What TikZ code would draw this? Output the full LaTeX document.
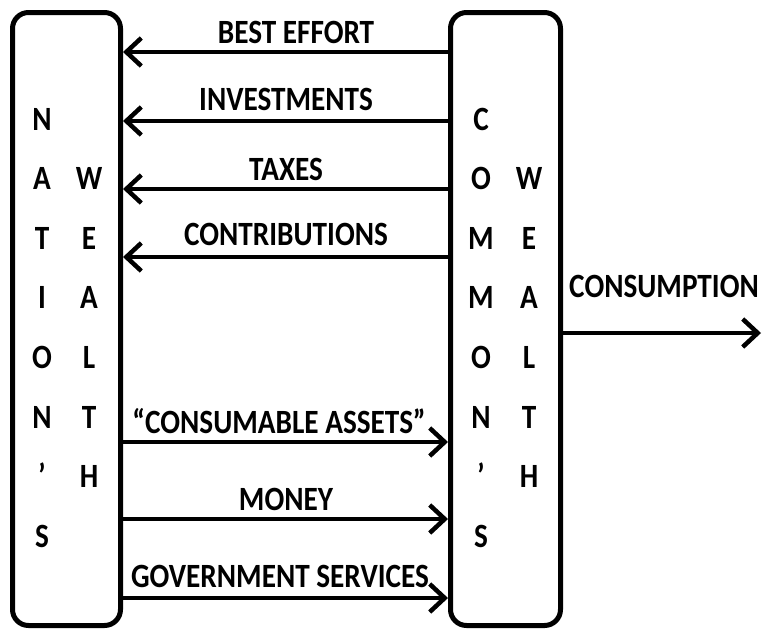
\documentclass[tikz,border=0pt]{standalone}
\usepackage{fontspec}
\setmainfont{Carlito}[FakeStretch=0.86]
\usetikzlibrary{arrows.meta}
\begin{document}
\begin{tikzpicture}[x=1pt,y=-1pt,
  box/.style={draw,line width=5pt,rounded corners=16pt,inner sep=0pt,minimum height=613pt},
  letter/.style={anchor=base,inner sep=0pt,font=\fontsize{34}{34}\selectfont\bfseries},
  lbl/.style={anchor=base,inner sep=0pt,font=\fontsize{34}{34}\selectfont\bfseries},
  arr/.style={line width=4.5pt,-{Straight Barb[length=15pt,width=28pt,line width=4.5pt]}}]
\useasboundingbox (0,0) rectangle (762,632);
\node[box,minimum width=108pt] (L) at (66.5,319) {};
\node[box,minimum width=110pt] (R) at (505.5,319) {};
% left column letters
\foreach \t [count=\i from 0] in {N,A,T,I,O,N,’,S}
  \node[letter] (ln\i) at (42,130+59.6*\i) {\t};
\foreach \t [count=\i from 1] in {W,E,A,L,T,H}
  \node[letter] (lw\i) at (89,130+59.6*\i) {\t};
\foreach \t [count=\i from 0] in {C,O,M,M,O,N,’,S}
  \node[letter] (rc\i) at (481,130+59.6*\i) {\t};
\foreach \t [count=\i from 1] in {W,E,A,L,T,H}
  \node[letter] (rw\i) at (529,130+59.6*\i) {\t};
% arrows to the left
\draw[arr] (R.west |- 0,52) -- (L.east |- 0,52);
\draw[arr] (R.west |- 0,121) -- (L.east |- 0,121);
\draw[arr] (R.west |- 0,189) -- (L.east |- 0,189);
\draw[arr] (R.west |- 0,257) -- (L.east |- 0,257);
% arrows to the right
\draw[arr] (L.east |- 0,442) -- (R.west |- 0,442);
\draw[arr] (L.east |- 0,519) -- (R.west |- 0,519);
\draw[arr] (L.east |- 0,598) -- (R.west |- 0,598);
\coordinate (end) at (761,333);
\draw[arr] (R.east |- end) -- (end);
% labels
\node[lbl] (t1) at (296,43) {BEST EFFORT};
\node[lbl] (t2) at (286,110) {INVESTMENTS};
\node[lbl] (t3) at (286,180) {TAXES};
\node[lbl] (t4) at (286,245) {CONTRIBUTIONS};
\node[lbl] (t5) at (279,433) {“CONSUMABLE ASSETS”};
\node[lbl] (t6) at (286,510) {MONEY};
\node[lbl] (t7) at (280,587) {GOVERNMENT SERVICES};
\node[lbl] (t8) at (664,297) {CONSUMPTION};
\end{tikzpicture}
\end{document}
